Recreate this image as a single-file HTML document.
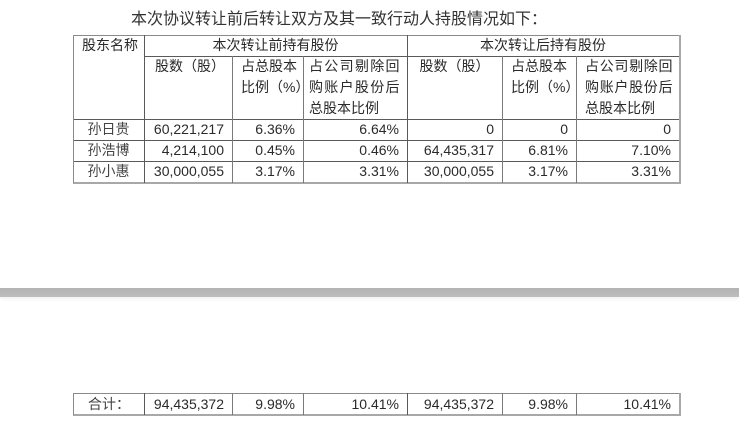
<!DOCTYPE html>
<html>
<head>
<meta charset="utf-8">
<style>
html,body{margin:0;padding:0;background:#fff;}
#c{position:relative;width:739px;height:431px;overflow:hidden;background:#fff;font-family:"Liberation Sans","Noto Sans CJK SC",sans-serif;color:#2a2a2a;}
.t{position:absolute;font-size:14px;line-height:21px;height:21px;white-space:nowrap;}
.c{text-align:center;}
.r{text-align:right;box-sizing:border-box;padding-right:8px;}
.h{position:absolute;height:1px;background:#5a5a5a;}
.v{position:absolute;width:1px;background:#5a5a5a;}
.nm{color:#444;}
</style>
</head>
<body>
<div id="c">
  <!-- title -->
  <div class="t" style="left:131px;top:9px;font-size:16px;line-height:22px;height:22px;color:#333;">本次协议转让前后转让双方及其一致行动人持股情况如下：</div>

  <!-- upper table lines -->
  <div class="h" style="left:73px;top:35px;width:607px;background:#8a8a8a;"></div>
  <div class="h" style="left:144px;top:56px;width:535px;"></div>
  <div class="h" style="left:73px;top:119px;width:606px;"></div>
  <div class="h" style="left:73px;top:140px;width:606px;"></div>
  <div class="h" style="left:73px;top:161px;width:606px;"></div>
  <div class="h" style="left:73px;top:182px;width:608px;height:2px;background:#a8a8a8;"></div>
  <div class="v" style="left:73px;top:35px;height:148px;background:#8a8a8a;"></div>
  <div class="v" style="left:679px;top:35px;height:149px;width:2px;background:#a8a8a8;"></div>
  <div class="v" style="left:144px;top:35px;height:148px;"></div>
  <div class="v" style="left:407px;top:35px;height:148px;"></div>
  <div class="v" style="left:232px;top:56px;height:127px;background:#7a7a7a;"></div>
  <div class="v" style="left:303px;top:56px;height:127px;background:#7a7a7a;"></div>
  <div class="v" style="left:502px;top:56px;height:127px;background:#7a7a7a;"></div>
  <div class="v" style="left:576px;top:56px;height:127px;background:#7a7a7a;"></div>

  <!-- header row 1 -->
  <div class="t" style="left:82px;top:35px;">股东名称</div>
  <div class="t c" style="left:144px;top:35px;width:263px;">本次转让前持有股份</div>
  <div class="t c" style="left:407px;top:35px;width:272px;">本次转让后持有股份</div>

  <!-- header row 2 -->
  <div class="t c" style="left:146px;top:56px;width:88px;">股数（股）</div>
  <div class="t" style="left:241px;top:56px;">占总股本</div>
  <div class="t" style="left:241px;top:77px;">比例（%）</div>
  <div class="t" style="left:309px;top:56px;letter-spacing:1.3px;">占公司剔除回</div>
  <div class="t" style="left:309px;top:77px;letter-spacing:1.3px;">购账户股份后</div>
  <div class="t" style="left:309px;top:98px;">总股本比例</div>

  <div class="t c" style="left:407px;top:56px;width:95px;">股数（股）</div>
  <div class="t" style="left:511px;top:56px;">占总股本</div>
  <div class="t" style="left:511px;top:77px;">比例（%）</div>
  <div class="t" style="left:585px;top:56px;letter-spacing:0.7px;">占公司剔除回</div>
  <div class="t" style="left:585px;top:77px;letter-spacing:0.7px;">购账户股份后</div>
  <div class="t" style="left:585px;top:98px;">总股本比例</div>

  <!-- data row 1 -->
  <div class="t c nm" style="left:73px;top:119px;width:71px;">孙日贵</div>
  <div class="t r" style="left:144px;top:119px;width:88px;">60,221,217</div>
  <div class="t r" style="left:232px;top:119px;width:71px;">6.36%</div>
  <div class="t r" style="left:303px;top:119px;width:104px;">6.64%</div>
  <div class="t r" style="left:407px;top:119px;width:95px;">0</div>
  <div class="t r" style="left:502px;top:119px;width:74px;">0</div>
  <div class="t r" style="left:576px;top:119px;width:103px;">0</div>

  <!-- data row 2 -->
  <div class="t c nm" style="left:73px;top:140px;width:71px;">孙浩博</div>
  <div class="t r" style="left:144px;top:140px;width:88px;">4,214,100</div>
  <div class="t r" style="left:232px;top:140px;width:71px;">0.45%</div>
  <div class="t r" style="left:303px;top:140px;width:104px;">0.46%</div>
  <div class="t r" style="left:407px;top:140px;width:95px;">64,435,317</div>
  <div class="t r" style="left:502px;top:140px;width:74px;">6.81%</div>
  <div class="t r" style="left:576px;top:140px;width:103px;">7.10%</div>

  <!-- data row 3 -->
  <div class="t c nm" style="left:73px;top:161px;width:71px;">孙小惠</div>
  <div class="t r" style="left:144px;top:161px;width:88px;">30,000,055</div>
  <div class="t r" style="left:232px;top:161px;width:71px;">3.17%</div>
  <div class="t r" style="left:303px;top:161px;width:104px;">3.31%</div>
  <div class="t r" style="left:407px;top:161px;width:95px;">30,000,055</div>
  <div class="t r" style="left:502px;top:161px;width:74px;">3.17%</div>
  <div class="t r" style="left:576px;top:161px;width:103px;">3.31%</div>

  <!-- gray bar -->
  <div style="position:absolute;left:0;top:288px;width:739px;height:9px;background:linear-gradient(#b3b3b3,#bdbdbd);box-shadow:0 2px 3px rgba(0,0,0,0.06);"></div>

  <!-- bottom table -->
  <div class="h" style="left:73px;top:393px;width:607px;background:#8a8a8a;"></div>
  <div class="h" style="left:73px;top:414px;width:608px;height:2px;background:#a8a8a8;"></div>
  <div class="v" style="left:73px;top:393px;height:22px;background:#8a8a8a;"></div>
  <div class="v" style="left:679px;top:393px;height:23px;width:2px;background:#a8a8a8;"></div>
  <div class="v" style="left:144px;top:393px;height:22px;"></div>
  <div class="v" style="left:232px;top:393px;height:22px;background:#7a7a7a;"></div>
  <div class="v" style="left:303px;top:393px;height:22px;background:#7a7a7a;"></div>
  <div class="v" style="left:407px;top:393px;height:22px;"></div>
  <div class="v" style="left:502px;top:393px;height:22px;background:#7a7a7a;"></div>
  <div class="v" style="left:576px;top:393px;height:22px;background:#7a7a7a;"></div>

  <div class="t nm" style="left:88px;top:394px;">合计：</div>
  <div class="t r" style="left:144px;top:394px;width:88px;">94,435,372</div>
  <div class="t r" style="left:232px;top:394px;width:71px;">9.98%</div>
  <div class="t r" style="left:303px;top:394px;width:104px;">10.41%</div>
  <div class="t r" style="left:407px;top:394px;width:95px;">94,435,372</div>
  <div class="t r" style="left:502px;top:394px;width:74px;">9.98%</div>
  <div class="t r" style="left:576px;top:394px;width:103px;">10.41%</div>
</div>
</body>
</html>
